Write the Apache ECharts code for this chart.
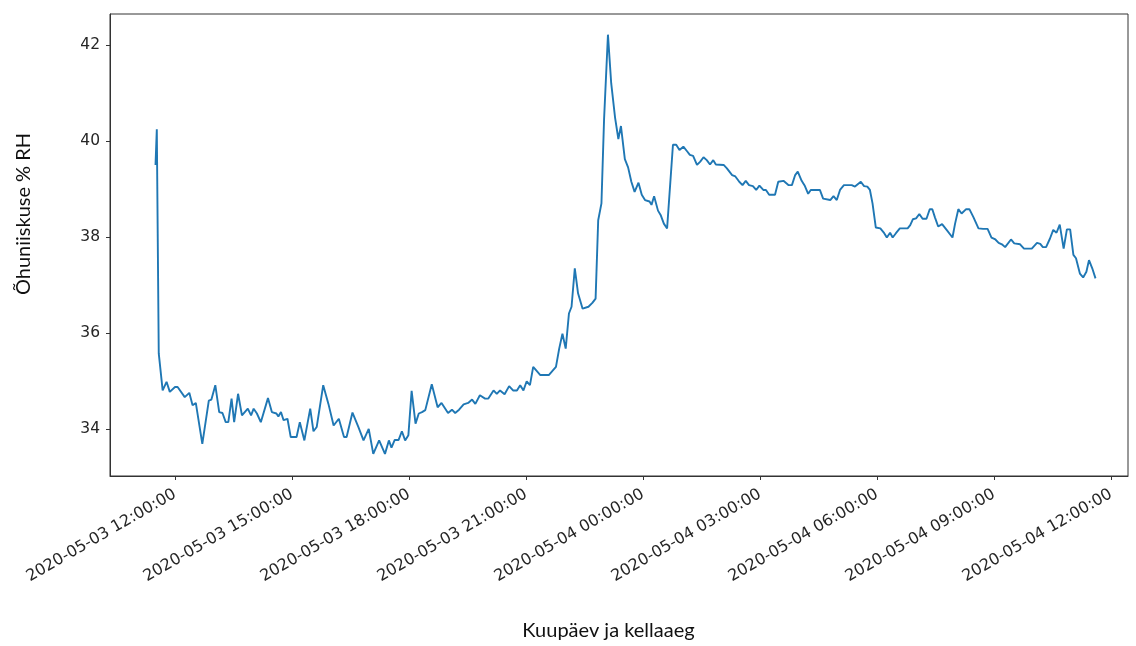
<!DOCTYPE html>
<html>
<head>
<meta charset="utf-8">
<title>Õhuniiskus</title>
<script src="https://cdn.jsdelivr.net/npm/echarts@6/dist/echarts.min.js"></script>
<style>
  html, body { margin: 0; padding: 0; background: #ffffff; }
  #chart { width: 1136px; height: 646px; }
</style>
</head>
<body>
<div id="chart"></div>
<script>
// Measurement start (UTC-based clock, shown as local wall time)
const startTime = '2020-05-03 11:30:00';

// Minutes after the start for each reading
const minutes = [
  0, 2, 5, 11, 17, 22, 30, 34, 45, 52,
  57, 62, 72, 82, 86, 92, 98, 103, 108, 112,
  117, 121, 127, 133, 142, 147, 151, 156, 162, 173,
  179, 186, 189, 193, 197, 203, 208, 217, 222, 229,
  238, 243, 248, 258, 266, 274, 282, 290, 294, 303,
  312, 320, 328, 335, 344, 353, 359, 363, 368, 374,
  379, 384, 389, 394, 400, 405, 410, 415, 425, 434,
  440, 450, 456, 461, 467, 474, 481, 487, 492, 499,
  507, 512, 520, 525, 530, 537, 544, 550, 556, 561,
  566, 571, 576, 581, 592, 605, 616, 621, 626, 631,
  636, 640, 645, 650, 657, 666, 672, 677, 681, 686,
  690, 696, 701, 707, 712, 716, 722, 727, 732, 737,
  743, 748, 753, 760, 763, 767, 773, 777, 782, 787,
  796, 801, 806, 812, 818, 822, 827, 833, 838, 843,
  848, 853, 858, 862, 874, 879, 887, 892, 898, 903,
  908, 913, 919, 924, 929, 935, 939, 944, 953, 958,
  966, 974, 979, 984, 988, 994, 999, 1004, 1008, 1022,
  1027, 1038, 1043, 1048, 1053, 1059, 1071, 1076, 1085, 1090,
  1095, 1099, 1103, 1108, 1115, 1121, 1125, 1130, 1134, 1139,
  1145, 1157, 1161, 1165, 1170, 1175, 1180, 1186, 1191, 1195,
  1199, 1204, 1210, 1217, 1226, 1230, 1235, 1240, 1247, 1252,
  1258, 1266, 1273, 1280, 1286, 1292, 1297, 1302, 1307, 1316,
  1321, 1330, 1336, 1348, 1356, 1361, 1365, 1370, 1376, 1381,
  1386, 1391, 1397, 1402, 1407, 1412, 1416, 1422, 1427, 1432,
  1436, 1441, 1446
];

// Relative humidity, % RH
const rh = [
  39.50, 40.24, 35.58, 34.81, 34.99, 34.78, 34.88, 34.88, 34.67, 34.76,
  34.50, 34.55, 33.70, 34.60, 34.62, 34.92, 34.36, 34.34, 34.15, 34.15,
  34.64, 34.15, 34.74, 34.29, 34.43, 34.29, 34.43, 34.33, 34.15, 34.65,
  34.36, 34.33, 34.27, 34.36, 34.19, 34.22, 33.84, 33.84, 34.15, 33.77,
  34.43, 33.96, 34.05, 34.92, 34.53, 34.08, 34.22, 33.84, 33.84, 34.35,
  34.05, 33.77, 34.01, 33.49, 33.77, 33.49, 33.77, 33.62, 33.78, 33.78,
  33.96, 33.77, 33.88, 34.80, 34.12, 34.33, 34.36, 34.40, 34.94, 34.46,
  34.55, 34.34, 34.41, 34.34, 34.41, 34.52, 34.55, 34.62, 34.53, 34.71,
  34.64, 34.64, 34.81, 34.74, 34.81, 34.73, 34.90, 34.81, 34.81, 34.92,
  34.81, 35.00, 34.92, 35.30, 35.13, 35.13, 35.30, 35.68, 35.99, 35.68,
  36.41, 36.55, 37.35, 36.83, 36.51, 36.55, 36.63, 36.72, 38.35, 38.70,
  40.44, 42.21, 41.20, 40.48, 40.04, 40.31, 39.62, 39.45, 39.15, 38.94,
  39.13, 38.88, 38.77, 38.74, 38.67, 38.85, 38.55, 38.46, 38.28, 38.18,
  39.92, 39.92, 39.81, 39.88, 39.78, 39.71, 39.69, 39.50, 39.57, 39.66,
  39.60, 39.51, 39.60, 39.51, 39.50, 39.43, 39.29, 39.26, 39.15, 39.08,
  39.17, 39.08, 39.06, 38.98, 39.07, 38.98, 38.98, 38.88, 38.88, 39.15,
  39.17, 39.08, 39.08, 39.29, 39.36, 39.17, 39.06, 38.90, 38.98, 38.98,
  38.80, 38.77, 38.85, 38.77, 38.98, 39.08, 39.08, 39.05, 39.15, 39.06,
  39.05, 38.98, 38.70, 38.20, 38.18, 38.08, 37.99, 38.09, 37.99, 38.08,
  38.18, 38.18, 38.25, 38.37, 38.39, 38.48, 38.38, 38.38, 38.58, 38.58,
  38.41, 38.22, 38.27, 38.15, 37.99, 38.28, 38.58, 38.49, 38.58, 38.58,
  38.42, 38.18, 38.17, 38.17, 37.99, 37.95, 37.88, 37.85, 37.79, 37.95,
  37.87, 37.85, 37.76, 37.76, 37.88, 37.86, 37.79, 37.79, 37.97, 38.15,
  38.09, 38.26, 37.76, 38.16, 38.16, 37.63, 37.56, 37.24, 37.16, 37.28,
  37.52, 37.35, 37.14
];

// Axis ticks
const xTickLabels = [
  '2020-05-03 12:00:00', '2020-05-03 15:00:00', '2020-05-03 18:00:00',
  '2020-05-03 21:00:00', '2020-05-04 00:00:00', '2020-05-04 03:00:00',
  '2020-05-04 06:00:00', '2020-05-04 09:00:00', '2020-05-04 12:00:00'
];
const yTicks = [34, 36, 38, 40, 42];

// Visible ranges
const xRange = ['2020-05-03 10:20:00', '2020-05-04 12:26:00'];
const yRange = [33.03, 42.64];

function parseStamp(s) {
  const [d, t] = s.split(' ');
  const [Y, M, D] = d.split('-').map(Number);
  const [h, m, sec] = t.split(':').map(Number);
  return Date.UTC(Y, M - 1, D, h, m, sec || 0);
}
function pad(n) { return String(n).padStart(2, '0'); }
function formatStamp(v) {
  const d = new Date(v);
  return d.getUTCFullYear() + '-' + pad(d.getUTCMonth() + 1) + '-' + pad(d.getUTCDate()) +
    ' ' + pad(d.getUTCHours()) + ':' + pad(d.getUTCMinutes()) + ':' + pad(d.getUTCSeconds());
}

const t0 = parseStamp(startTime);
const points = minutes.map((m, i) => [t0 + m * 60000, rh[i]]);
const xTicks = xTickLabels.map(parseStamp);

const axisColor = '#333333';
const labelFont = 'DejaVu Sans';
const titleFont = 'Lato';

const chart = echarts.init(document.getElementById('chart'), null, { renderer: 'canvas' });
chart.setOption({
  animation: false,
  backgroundColor: '#ffffff',
  grid: {
    left: 110, right: 8, top: 14, bottom: 170,
    show: true, borderColor: axisColor, borderWidth: 1, containLabel: false
  },
  xAxis: {
    type: 'value',
    min: parseStamp(xRange[0]),
    max: parseStamp(xRange[1]),
    name: 'Kuupäev ja kellaaeg',
    nameLocation: 'middle',
    nameGap: 145,
    nameTextStyle: { fontFamily: titleFont, fontSize: 20, color: '#111', padding: [0, 21, 0, 0] },
    axisLine: { show: true, lineStyle: { color: axisColor, width: 1 } },
    axisTick: { show: true, length: 4, lineStyle: { color: axisColor }, customValues: xTicks },
    axisLabel: {
      customValues: xTicks,
      rotate: 30,
      margin: 17,
      fontFamily: labelFont,
      fontSize: 16,
      color: '#262626',
      formatter: v => formatStamp(v)
    },
    splitLine: { show: false }
  },
  yAxis: {
    type: 'value',
    min: yRange[0],
    max: yRange[1],
    name: 'Õhuniiskuse % RH',
    nameLocation: 'middle',
    nameRotate: 90,
    nameGap: 76,
    nameTextStyle: { fontFamily: titleFont, fontSize: 20, color: '#111', padding: [0, 0, 0, 62] },
    axisLine: { show: true, lineStyle: { color: axisColor, width: 1 } },
    axisTick: { show: true, length: 4, lineStyle: { color: axisColor }, customValues: yTicks },
    axisLabel: {
      customValues: yTicks,
      margin: 10,
      fontFamily: labelFont,
      fontSize: 15.5,
      color: '#262626',
      formatter: v => String(v)
    },
    splitLine: { show: false }
  },
  series: [{
    type: 'line',
    data: points,
    showSymbol: false,
    lineStyle: { color: '#1f77b4', width: 1.9 },
    itemStyle: { color: '#1f77b4' }
  }]
});
</script>
</body>
</html>
